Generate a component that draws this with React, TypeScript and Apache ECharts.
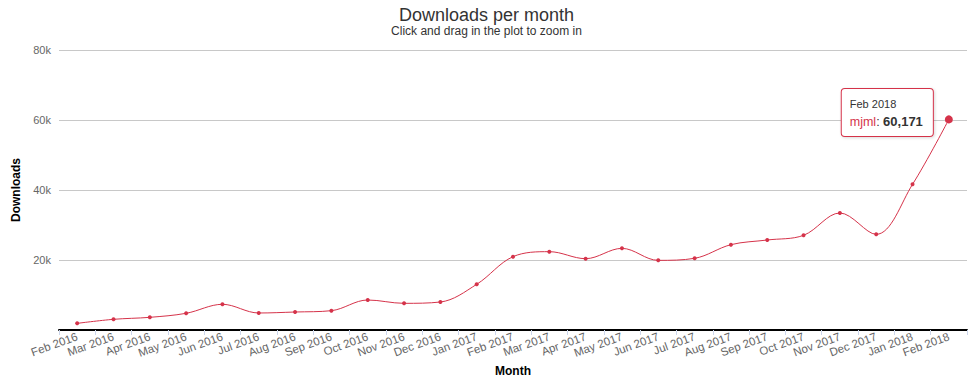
import React, { useEffect, useRef } from "react";
import * as echarts from "echarts";

const months: string[] = [
  "Feb 2016", "Mar 2016", "Apr 2016", "May 2016", "Jun 2016", "Jul 2016",
  "Aug 2016", "Sep 2016", "Oct 2016", "Nov 2016", "Dec 2016", "Jan 2017",
  "Feb 2017", "Mar 2017", "Apr 2017", "May 2017", "Jun 2017", "Jul 2017",
  "Aug 2017", "Sep 2017", "Oct 2017", "Nov 2017", "Dec 2017", "Jan 2018",
  "Feb 2018",
];

const downloads: number[] = [
  1900, 3050, 3620, 4770, 7340, 4860,
  5140, 5520, 8570, 7620, 8000, 13050,
  20950, 22380, 20380, 23330, 19900, 20480,
  24380, 25710, 27050, 33430, 27330, 41620,
  60171,
];

const seriesName = "mjml";
const yTicks = { min: 0, max: 80000, interval: 20000 };

const RED = "#d5334a";
const FONT = "'Liberation Sans', Arial, sans-serif";

export default function App() {
  const ref = useRef<HTMLDivElement>(null);

  useEffect(() => {
    if (!ref.current) return;
    const chart = echarts.init(ref.current, null, { renderer: "svg" });
    const lastIdx = downloads.length - 1;
    const data = downloads.map((v, i) =>
      i === lastIdx
        ? {
            value: v,
            symbolSize: 8,
            label: {
              show: true,
              position: "left",
              distance: 12,
              offset: [0, -7],
              align: "right",
              backgroundColor: "#ffffff",
              borderColor: RED,
              borderWidth: 1,
              borderRadius: 3,
              padding: [7, 10, 5, 8],
              shadowColor: "rgba(0,0,0,0.15)",
              shadowBlur: 3,
              shadowOffsetX: 1,
              shadowOffsetY: 1,
              formatter: () =>
                `{d|${months[i]}}\n{n|${seriesName}}{s|: }{v|${v.toLocaleString("en-US")}}`,
              rich: {
                d: { fontSize: 11, color: "#333", fontFamily: FONT, lineHeight: 17, align: "left" },
                n: { fontSize: 12.5, color: RED, fontFamily: FONT, lineHeight: 18, align: "left" },
                s: { fontSize: 12.5, color: "#333", fontFamily: FONT, lineHeight: 18, align: "left" },
                v: { fontSize: 13, color: "#333", fontWeight: "bold", fontFamily: FONT, lineHeight: 18, align: "left" },
              },
            },
          }
        : v
    );

    chart.setOption({
      animation: false,
      backgroundColor: "#ffffff",
      title: {
        text: "Downloads per month",
        subtext: "Click and drag in the plot to zoom in",
        left: "center",
        top: 1,
        itemGap: 1,
        textStyle: { fontSize: 18, fontWeight: "normal", color: "#333333", fontFamily: FONT },
        subtextStyle: { fontSize: 12, color: "#333333", fontFamily: FONT },
      },
      grid: { left: 59, right: 6, top: 50, bottom: 55, containLabel: false },
      xAxis: {
        type: "category",
        data: months,
        boundaryGap: true,
        name: "Month",
        nameLocation: "middle",
        nameGap: 29,
        nameTextStyle: { fontSize: 12, fontWeight: "bold", color: "#000", fontFamily: FONT },
        axisLine: { show: true, lineStyle: { color: "#000000", width: 2 } },
        axisTick: { show: true, alignWithLabel: false, length: 5, lineStyle: { color: "#ccd6eb" } },
        axisLabel: {
          interval: 0,
          rotate: 20,
          margin: 6,
          color: "#666666",
          fontSize: 11.5,
          fontFamily: FONT,
        },
        splitLine: { show: false },
      },
      yAxis: {
        type: "value",
        min: yTicks.min,
        max: yTicks.max,
        interval: yTicks.interval,
        name: "Downloads",
        nameLocation: "middle",
        nameGap: 34,
        nameTextStyle: { fontSize: 12, fontWeight: "bold", color: "#000", fontFamily: FONT },
        axisLine: { show: false },
        axisTick: { show: false },
        axisLabel: {
          margin: 8,
          color: "#666666",
          fontSize: 11,
          fontFamily: FONT,
          formatter: (val: number) => (val === 0 ? "" : `${val / 1000}k`),
        },
        splitLine: { show: true, lineStyle: { color: "#c8c8c8", width: 1 } },
      },
      series: [
        {
          name: seriesName,
          type: "line",
          data,
          smooth: 0.35,
          symbol: "circle",
          symbolSize: 4,
          showAllSymbol: true,
          lineStyle: { color: RED, width: 1 },
          itemStyle: { color: RED },
          emphasis: { disabled: true },
        },
      ],
    });

    return () => chart.dispose();
  }, []);

  return (
    <div
      ref={ref}
      style={{ position: "fixed", left: 0, top: 0, width: 973, height: 385 }}
    />
  );
}
